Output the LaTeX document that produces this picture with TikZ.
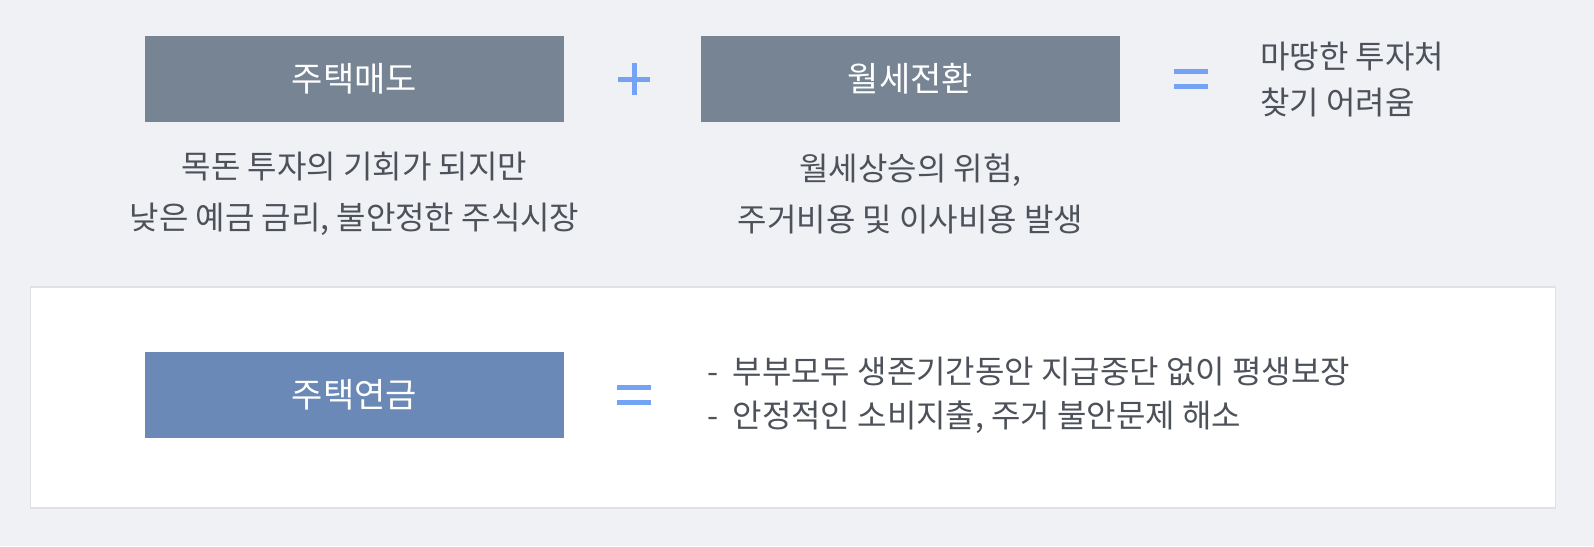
\documentclass[tikz,border=0pt]{standalone}
\usepackage{fontspec}
\usetikzlibrary{calc}
\setmainfont{Noto Sans CJK KR}
\definecolor{bgc}{HTML}{F0F1F5}
\definecolor{boxgray}{HTML}{778494}
\definecolor{boxblue}{HTML}{6B89B6}
\definecolor{signblue}{HTML}{74A2F5}
\definecolor{txt}{HTML}{4D525A}
\definecolor{panelline}{HTML}{DFE1E5}
\tikzset{
  titlebox/.style={minimum width=419pt, minimum height=86pt, inner sep=0pt, text=white, font=\fontsize{34}{40}\selectfont},
  desc/.style={text=txt, align=center, font=\fontsize{32}{51}\selectfont, inner sep=0pt},
  sidetext/.style={text=txt, align=left, font=\fontsize{32}{46}\selectfont, inner sep=0pt, anchor=west},
  sign/.style={signblue, line width=5pt}
}
\begin{document}
\begin{tikzpicture}[x=1pt,y=-1pt]
\fill[bgc] (0,0) rectangle (1594,546);
\useasboundingbox (0,0) rectangle (1594,546);
% top row
\node[titlebox, fill=boxgray] (sell) at (354.5,79) {주택매도};
\node[titlebox, fill=boxgray] (rent) at (910.5,79) {월세전환};
\coordinate (plus) at (634,79);
\draw[sign] ($(plus)+(-16,0)$) -- ($(plus)+(16,0)$);
\draw[sign] ($(plus)+(0,-16)$) -- ($(plus)+(0,16)$);
\coordinate (eq1) at (1191,79);
\draw[sign] ($(eq1)+(-17,-7.5)$) -- ($(eq1)+(17,-7.5)$);
\draw[sign] ($(eq1)+(-17,7.5)$) -- ($(eq1)+(17,7.5)$);
\node[sidetext] (res) at (1260,80) {마땅한 투자처\\찾기 어려움};
\node[desc] (selld) at (354.5,194) {목돈 투자의 기회가 되지만\\낮은 예금 금리, 불안정한 주식시장};
\node[desc] (rentd) at (910.5,194) {월세상승의 위험,\\주거비용 및 이사비용 발생};
% bottom panel
\node[draw=panelline, line width=1.2pt, fill=white, minimum width=1525pt, minimum height=221pt, inner sep=0pt] (panel) at (793,397.5) {};
\node[titlebox, fill=boxblue] (pension) at (354.5,395) {주택연금};
\coordinate (eq2) at (634,395);
\draw[sign] ($(eq2)+(-17,-7.5)$) -- ($(eq2)+(17,-7.5)$);
\draw[sign] ($(eq2)+(-17,7.5)$) -- ($(eq2)+(17,7.5)$);
\node[sidetext, font=\fontsize{32}{44}\selectfont] (benefit) at (707,395) {-\ \ 부부모두 생존기간동안 지급중단 없이 평생보장\\-\ \ 안정적인 소비지출, 주거 불안문제 해소};
\end{tikzpicture}
\end{document}
